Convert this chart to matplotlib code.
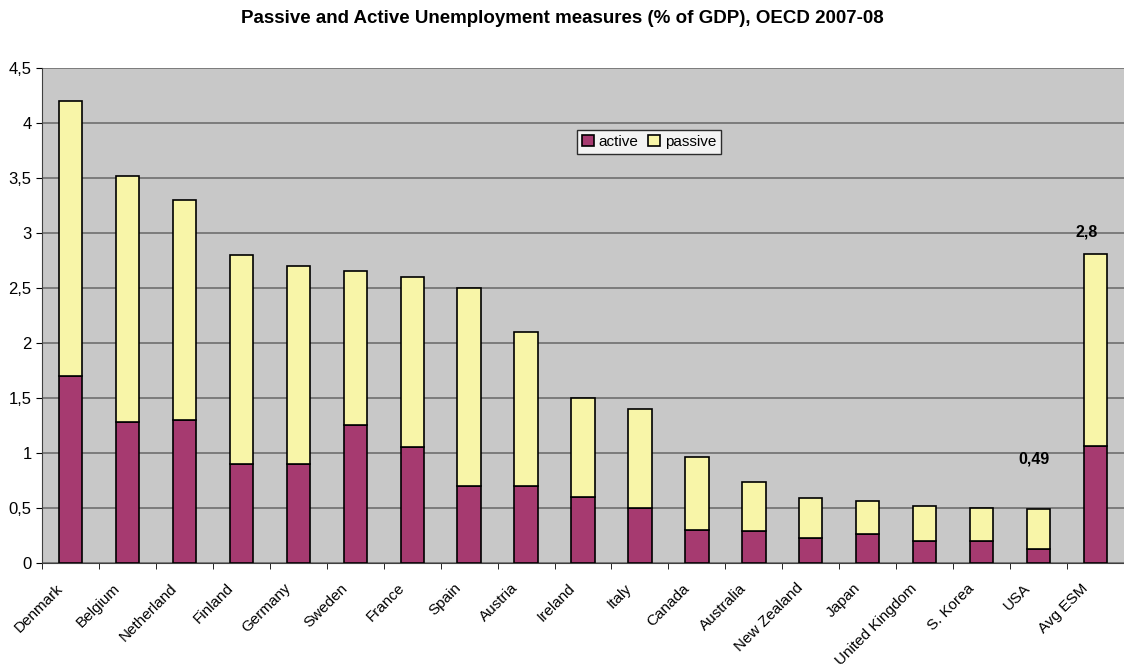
# Medidas activas y pasivas de desempleo (% del PIB), OCDE 2007-08
import matplotlib.pyplot as plt
import matplotlib.transforms as mtransforms
from matplotlib.ticker import FuncFormatter, MultipleLocator
import numpy as np

plt.rcParams['font.family'] = ['Liberation Sans', 'DejaVu Sans']

paises = ['Denmark', 'Belgium', 'Netherland', 'Finland', 'Germany', 'Sweden',
          'France', 'Spain', 'Austria', 'Ireland', 'Italy', 'Canada',
          'Australia', 'New Zealand', 'Japan', 'United Kingdom', 'S. Korea',
          'USA', 'Avg ESM']
total = [4.2, 3.52, 3.3, 2.8, 2.7, 2.65, 2.6, 2.5, 2.1, 1.5, 1.4, 0.96,
         0.74, 0.59, 0.56, 0.52, 0.5, 0.49, 2.81]
activo = [1.7, 1.28, 1.3, 0.9, 0.9, 1.25, 1.05, 0.7, 0.7, 0.6, 0.5, 0.3,
          0.29, 0.23, 0.26, 0.2, 0.2, 0.13, 1.06]
pasivo = [t - a for t, a in zip(total, activo)]

fig = plt.figure(figsize=(11.24, 6.66), dpi=100)
ax = fig.add_axes([0.0374, 0.1547, 0.9626, 0.7433])
ax.set_facecolor('#C8C8C8')

x = np.arange(len(paises))
ax.bar(x, activo, width=0.41, color='#A63A70', edgecolor='black', linewidth=1.2,
       label='active', zorder=3)
ax.bar(x, pasivo, width=0.41, bottom=activo, color='#F8F5A8', edgecolor='black',
       linewidth=1.2, label='passive', zorder=3)

ax.set_xlim(-0.5, len(paises) - 0.5)
ax.set_ylim(0, 4.5)
ax.yaxis.set_major_locator(MultipleLocator(0.5))
ax.yaxis.set_major_formatter(FuncFormatter(lambda v, p: ('%g' % v).replace('.', ',')))
ax.grid(axis='y', color='#6E6E6E', linewidth=1.2, zorder=1)
ax.set_axisbelow(True)

ax.set_xticks(x)
ax.set_xticklabels(paises, rotation=45, ha='right', va='top', rotation_mode='anchor',
                   fontsize=11)
ax.tick_params(axis='x', which='major', length=0, pad=13)
desplaza = mtransforms.ScaledTranslation(-15 / 100, 0, fig.dpi_scale_trans)
for lbl in ax.get_xticklabels():
    lbl.set_transform(lbl.get_transform() + desplaza)
ax.set_xticks(np.arange(-0.5, len(paises), 1), minor=True)
ax.tick_params(axis='x', which='minor', length=4, color='black')
ax.tick_params(axis='y', labelsize=12, length=4)

for s in ['top', 'right']:
    ax.spines[s].set_visible(False)
ax.spines['left'].set_color('#404040')
ax.spines['bottom'].set_color('#404040')

ax.text(17.85, 3.01, '2,8', ha='center', va='center', fontsize=11.5, fontweight='bold')
ax.text(16.92, 0.945, '0,49', ha='center', va='center', fontsize=11.5, fontweight='bold')

leg = ax.legend(loc='center', bbox_to_anchor=(0.5774, 0.787), bbox_transform=fig.transFigure,
                ncol=2, fontsize=11, frameon=True, fancybox=False, edgecolor='black',
                handlelength=0.8, handleheight=0.8, handletextpad=0.3, columnspacing=0.6,
                borderpad=0.3, borderaxespad=0)
leg.get_frame().set_linewidth(1.0)

fig.suptitle('Passive and Active Unemployment measures (% of GDP), OECD 2007-08',
             y=0.985, fontsize=13.5, fontweight='bold')

plt.savefig('out.png', dpi=100)
